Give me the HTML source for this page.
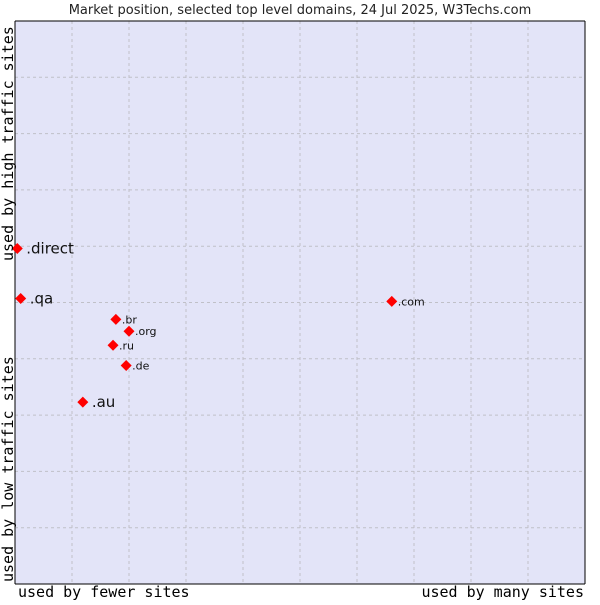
<!DOCTYPE html>
<html><head><meta charset="utf-8"><style>
body{margin:0;background:#fff;}
svg text{font-family:"DejaVu Sans","Liberation Sans",sans-serif;}
.mono{font-family:"DejaVu Sans Mono","Liberation Mono",monospace;font-size:15px;}
</style></head><body>
<svg id="chart" width="600" height="600" xmlns="http://www.w3.org/2000/svg">
<text x="300" y="14" text-anchor="middle" font-size="13" fill="#222">Market position, selected top level domains, 24 Jul 2025, W3Techs.com</text>
<rect x="15" y="21" width="570" height="563" fill="#e3e4f8"/>
<g id="grid"></g>
<line x1="15" y1="21" x2="15" y2="584" stroke="#000"/>
<line x1="15" y1="21" x2="585" y2="21" stroke="#000"/>
<line x1="585" y1="21" x2="585" y2="584" stroke="#000"/>
<line x1="15" y1="584" x2="585" y2="584" stroke="#000"/>
<g id="points"></g>
<text class="mono" x="18" y="597">used by fewer sites</text>
<text class="mono" x="584" y="597" text-anchor="end">used by many sites</text>
<text class="mono" transform="translate(13,582) rotate(-90)">used by low traffic sites</text>
<text class="mono" transform="translate(13,261) rotate(-90)">used by high traffic sites</text>
</svg>
<script>
const domains=[".direct",".qa",".br",".org",".ru",".de",".au",".com"];
const xValues=[0.04,0.1,1.77,2.0,1.72,1.95,1.19,6.61];
const yValues=[5.96,5.07,4.7,4.49,4.24,3.88,3.23,5.02];
const labelSizes=[15,15,11,11,11,11,15,11];
const NS="http://www.w3.org/2000/svg";
const X0=15,X1=585,Y0=584,Y1=21;
const sx=v=>X0+v/10*(X1-X0);
const sy=v=>Y0-v/10*(Y0-Y1);
const grid=document.getElementById('grid');
for(let i=1;i<10;i++){
  const v=document.createElementNS(NS,'line');
  v.setAttribute('x1',sx(i));v.setAttribute('x2',sx(i));v.setAttribute('y1',Y1);v.setAttribute('y2',Y0);
  v.setAttribute('stroke','#c0c0c8');v.setAttribute('stroke-dasharray','3,3');
  
  
  grid.appendChild(v);
  const h=document.createElementNS(NS,'line');
  h.setAttribute('y1',sy(i));h.setAttribute('y2',sy(i));h.setAttribute('x1',X0);h.setAttribute('x2',X1);
  h.setAttribute('stroke','#c0c0c8');h.setAttribute('stroke-dasharray','3,3');
  
  
  grid.appendChild(h);
}
const pts=document.getElementById('points');
domains.forEach((d,i)=>{
  const x=sx(xValues[i]),y=sy(yValues[i]);
  const r=5.5;
  const p=document.createElementNS(NS,'polygon');
  p.setAttribute('points',`${x},${y-r} ${x+r},${y} ${x},${y+r} ${x-r},${y}`);
  p.setAttribute('fill','#f00');
  
  
  pts.appendChild(p);
  const t=document.createElementNS(NS,'text');
  const big=labelSizes[i]>12;
  t.setAttribute('x',x+(big?9:6));t.setAttribute('y',y+(big?5:4));
  t.setAttribute('font-size',labelSizes[i]);t.setAttribute('fill','#111');
  t.textContent=d;
  
  
  pts.appendChild(t);
});
</script>
</body></html>
